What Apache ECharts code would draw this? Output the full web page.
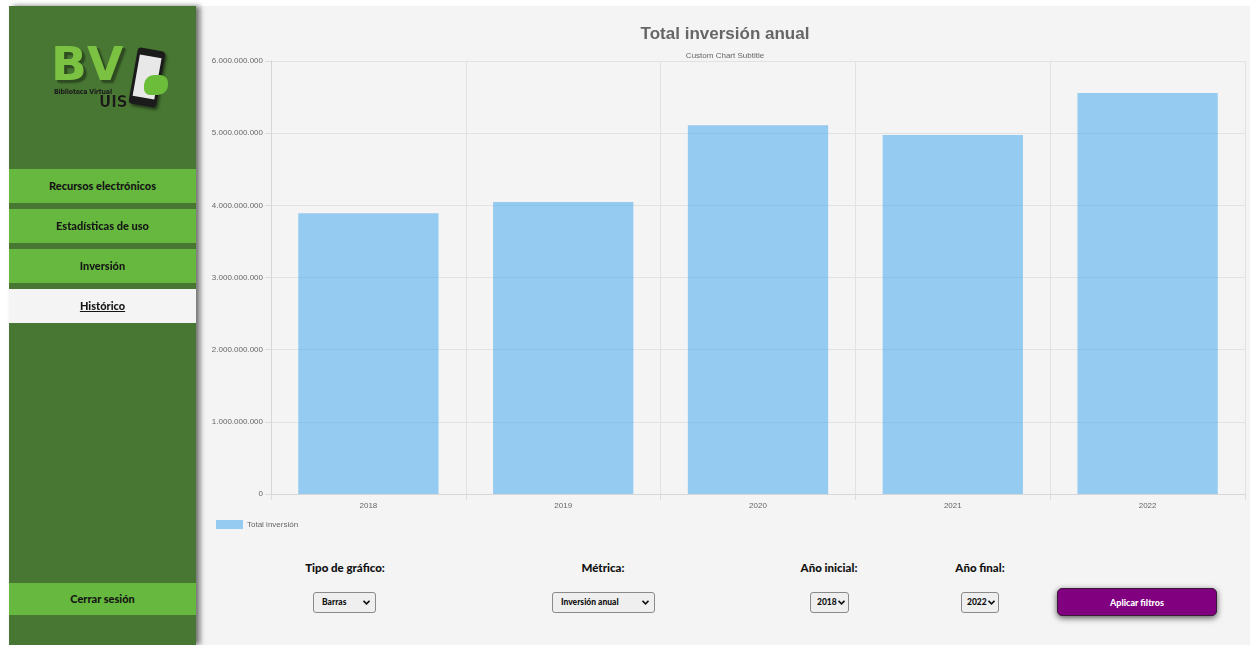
<!DOCTYPE html>
<html lang="es">
<head>
<meta charset="utf-8">
<title>Total inversión anual</title>
<script src="https://cdn.jsdelivr.net/npm/echarts@6/dist/echarts.min.js"></script>
<style>
  html, body { margin: 0; padding: 0; width: 1250px; height: 645px; overflow: hidden; background: #ffffff; font-family: Lato, "Open Sans", sans-serif; }
  #main { position: absolute; left: 200px; top: 6px; width: 1050px; height: 639px; background: #f4f4f4; }
  #sidebar { position: absolute; left: 9px; top: 6px; width: 187px; height: 639px; background: #487733; box-shadow: 4px 0 5px rgba(0,0,0,0.55); z-index: 2; }
  .menu { position: absolute; left: 0; width: 187px; height: 34px; line-height: 34px; background: #66b93e; color: #151515; font-weight: 900; font-size: 11px; text-align: center; }
  .menu.active { background: #f4f4f4; text-decoration: underline; }
  #logo { position: absolute; left: 34px; top: 36px; width: 140px; height: 70px; }
  .bv { position: absolute; left: 8px; top: 2px; font-family: "DejaVu Sans", sans-serif; font-weight: 900; font-size: 47px; letter-spacing: 2px; color: #7cc242; text-shadow: 2px 2px 0 #2e4a20, 3px 3px 2px rgba(0,0,0,0.4); line-height: 40px; }
  .bvsub { position: absolute; left: 11px; top: 46px; font-size: 7px; font-weight: 900; color: #1a1a1a; font-family: "DejaVu Sans Condensed", "DejaVu Sans", sans-serif; letter-spacing: -0.2px; }
  .uis { position: absolute; left: 56px; top: 53px; font-size: 15px; font-weight: 900; color: #1a1a1a; font-family: "DejaVu Sans", sans-serif; line-height: 14px; text-shadow: 0 0 1px #7cc242; }
  .phone { position: absolute; left: 90px; top: 7px; width: 28px; height: 57px; background: #1b1b1b; border-radius: 4px; transform: rotate(10deg); box-shadow: 2px 2px 3px rgba(0,0,0,0.5); }
  .phone .scr { position: absolute; left: 3px; top: 7px; width: 22px; height: 42px; background: #e8e8e8; }
  .hand { position: absolute; left: 101px; top: 33px; width: 24px; height: 20px; background: #6cbd3a; border-radius: 10px 8px 10px 6px; }
  #chart { position: absolute; left: 200px; top: 6px; width: 1050px; height: 540px; z-index: 1; }
  .lbl { position: absolute; top: 561px; font-weight: 900; font-size: 11.5px; color: #111; transform: translateX(-50%); white-space: nowrap; }
  .sel { position: absolute; top: 592px; height: 19px; border: 1px solid #8a8a8a; border-radius: 3px; background: #efefef; font-weight: 900; font-size: 8.5px; color: #111; line-height: 19px; box-sizing: content-box; }
  .sel span { position: absolute; left: 8px; }
  .sel svg { position: absolute; right: 5px; top: 7px; }
  #btn { position: absolute; left: 1057px; top: 588px; width: 160px; height: 28px; background: #800080; border-radius: 5px; box-shadow: 0 2px 6px rgba(0,0,0,0.65); color: #fff; font-weight: 900; font-size: 9px; line-height: 28px; text-align: center; border: 1px solid #3a1a3a; box-sizing: border-box; }
</style>
</head>
<body>
<div id="main"></div>
<div id="sidebar">
  <div id="logo">
    <div class="bv">BV</div>
    <div class="bvsub">Biblioteca Virtual</div>
    <div class="uis">UIS</div>
    <div class="phone"><div class="scr"></div></div>
    <div class="hand"></div>
  </div>
  <div class="menu" style="top:163px">Recursos electrónicos</div>
  <div class="menu" style="top:203px">Estadísticas de uso</div>
  <div class="menu" style="top:243px">Inversión</div>
  <div class="menu active" style="top:283px">Histórico</div>
  <div class="menu" style="top:577px; height:32px; line-height:32px">Cerrar sesión</div>
</div>
<div id="chart"></div>

<div class="lbl" style="left:345px">Tipo de gráfico:</div>
<div class="lbl" style="left:603px">Métrica:</div>
<div class="lbl" style="left:829px">Año inicial:</div>
<div class="lbl" style="left:980px">Año final:</div>

<div class="sel" style="left:313px; width:61px"><span>Barras</span><svg width="7" height="5"><path d="M0.5 0.8 L3.5 3.8 L6.5 0.8" stroke="#111" stroke-width="1.6" fill="none"/></svg></div>
<div class="sel" style="left:552px; width:101px"><span>Inversión anual</span><svg width="7" height="5"><path d="M0.5 0.8 L3.5 3.8 L6.5 0.8" stroke="#111" stroke-width="1.6" fill="none"/></svg></div>
<div class="sel" style="left:810px; width:37px"><span style="left:6px">2018</span><svg width="7" height="5" style="right:3px"><path d="M0.5 0.8 L3.5 3.8 L6.5 0.8" stroke="#111" stroke-width="1.6" fill="none"/></svg></div>
<div class="sel" style="left:961px; width:36px"><span style="left:5px">2022</span><svg width="7" height="5" style="right:3px"><path d="M0.5 0.8 L3.5 3.8 L6.5 0.8" stroke="#111" stroke-width="1.6" fill="none"/></svg></div>
<div id="btn">Aplicar filtros</div>

<script>
// ---- Data ----
const years = ['2018', '2019', '2020', '2021', '2022'];
const totalInversion = [3890000000, 4045000000, 5110000000, 4975000000, 5555000000];
const seriesName = 'Total inversión';
const chartTitle = 'Total inversión anual';
const chartSubtitle = 'Custom Chart Subtitle';

function fmtDots(v) {
  return String(Math.round(v)).replace(/\B(?=(\d{3})+(?!\d))/g, '.');
}

const chart = echarts.init(document.getElementById('chart'), null, { renderer: 'canvas' });
chart.setOption({
  animation: false,
  backgroundColor: 'transparent',
  textStyle: { fontFamily: '"Liberation Sans", Arial, sans-serif' },
  title: {
    text: chartTitle,
    subtext: chartSubtitle,
    left: 'center',
    top: 15,
    itemGap: 9,
    textStyle: { fontSize: 17, fontWeight: 'bold', color: '#666666', fontFamily: '"Liberation Sans", Arial, sans-serif' },
    subtextStyle: { fontSize: 8, color: '#666666', fontFamily: '"Liberation Sans", Arial, sans-serif' }
  },
  legend: {
    data: [seriesName],
    left: 11,
    top: 509,
    itemWidth: 27,
    itemHeight: 9,
    itemGap: 10,
    icon: 'rect',
    textStyle: { fontSize: 8, color: '#666666', padding: [0, 0, 0, -1] }
  },
  grid: { left: 71, right: 5, top: 55, bottom: 52, containLabel: false },
  xAxis: {
    type: 'category',
    data: years,
    boundaryGap: true,
    axisLine: { show: true, lineStyle: { color: '#d6d6d6', width: 1 } },
    axisTick: { show: true, length: 6, lineStyle: { color: '#dcdcdc' } },
    splitLine: { show: true, lineStyle: { color: '#e2e2e2', width: 1 } },
    axisLabel: { fontSize: 8, color: '#666666', margin: 8 }
  },
  yAxis: {
    type: 'value',
    min: 0,
    max: 6000000000,
    interval: 1000000000,
    axisLine: { show: true, lineStyle: { color: '#d6d6d6', width: 1 } },
    axisTick: { show: true, length: 6, lineStyle: { color: '#dcdcdc' } },
    splitLine: { show: true, lineStyle: { color: '#e2e2e2', width: 1 } },
    axisLabel: { fontSize: 8, color: '#666666', margin: 8, formatter: fmtDots }
  },
  series: [{
    name: seriesName,
    type: 'bar',
    data: totalInversion,
    barCategoryGap: '28%',
    itemStyle: { color: 'rgba(54,162,235,0.5)' }
  }]
});
</script>
</body>
</html>
